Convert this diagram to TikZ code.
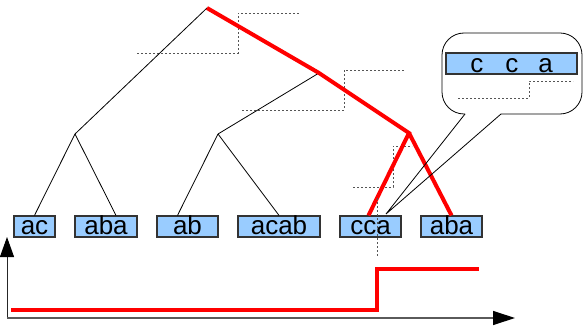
\documentclass[tikz,border=0pt]{standalone}
\usepackage{fontspec}
\setmainfont{Liberation Sans}
\usetikzlibrary{arrows.meta}
\definecolor{boxblue}{HTML}{99CCFF}
\definecolor{boxedge}{HTML}{333333}
\definecolor{dotgray}{HTML}{555555}
\definecolor{axisgray}{HTML}{5A5A5A}
\begin{document}
\begin{tikzpicture}[x=1pt,y=-1pt,
  leaf/.style={draw=boxedge, line width=1.2pt, fill=boxblue, inner sep=0pt,
    minimum height=21pt, text height=15pt, text depth=0pt,
    font=\fontsize{26}{30}\selectfont},
  branch/.style={line width=0.8pt, black},
  hot/.style={line width=4pt, red},
  dotline/.style={dotgray, line width=0.9pt, dash pattern=on 2pt off 2pt},
]
\useasboundingbox (0,0) rectangle (583,331);

% dotted step guides
\draw[dotline] (137,53) -- (238,53) -- (238,13) -- (299,13);
\draw[dotline] (242,110) -- (344,110) -- (344,70) -- (405,70);
\draw[dotline] (353,187) -- (393,187) -- (393,146) -- (412,146);

% leaves
\node[leaf, minimum width=41pt] (ac)   at (34.5,226.5) {ac};
\node[leaf, minimum width=62pt] (abaL) at (106,226.5)  {aba};
\node[leaf, minimum width=61pt] (ab)   at (187.5,226.5) {ab};
\node[leaf, minimum width=82pt] (acab) at (279,226.5)  {acab};
\node[leaf, minimum width=61pt] (cca)  at (370.5,226.5) {cca};
\node[leaf, minimum width=61pt] (abaR) at (451.5,226.5) {aba};

% internal nodes
\coordinate (root) at (207,8);
\coordinate (n2) at (319,73);
\coordinate (n3) at (409,133);
\coordinate (nL) at (75,134);
\coordinate (nM) at (218,134);

\draw[branch] (nL) -- (ac.north);
\draw[branch] (nL) -- ([xshift=10pt]abaL.north);
\draw[branch] (nM) -- ([xshift=-10pt]ab.north);
\draw[branch] (nM) -- (acab.north);
\draw[branch] (root) -- (nL);
\draw[branch] (n2) -- (nM);

\draw[hot] (root) -- (n2) -- (n3) -- ([xshift=-2pt]cca.north);
\draw[hot] (n3) -- (abaR.north);

\draw[dotline] (377,198) -- (377,256);

% callout
\coordinate (ctip) at (386,214);
\coordinate (tA) at (465,114);
\coordinate (tB) at (501,114);
\draw[branch, rounded corners=22pt] (tA) -- (442,114) -- (442,33) -- (582,33) -- (582,114) -- (tB);
\draw[branch] (tB) -- (ctip) -- (tA);
\node[leaf, minimum width=131pt, text height=18pt] (cbox) at (511.5,63.5) {c\hspace{22pt}c\hspace{20pt}a};
\draw[dotline] (458,98) -- (529,98) -- (529,81) -- (573,81);

% axes
\coordinate (O) at (7,318);
\coordinate (Ytip) at (7,237);
\coordinate (Xtip) at (515,318);
\draw[line width=1pt, black!85, -{Triangle[length=20pt,width=14pt,color=black]}] (O) -- (Ytip);
\draw[line width=1.2pt, axisgray, -{Triangle[length=22pt,width=14pt,color=black]}] (O) -- (Xtip);

% step
\draw[hot] (11,310) -- (377,310) -- (377,269) -- (479,269);
\end{tikzpicture}
\end{document}
